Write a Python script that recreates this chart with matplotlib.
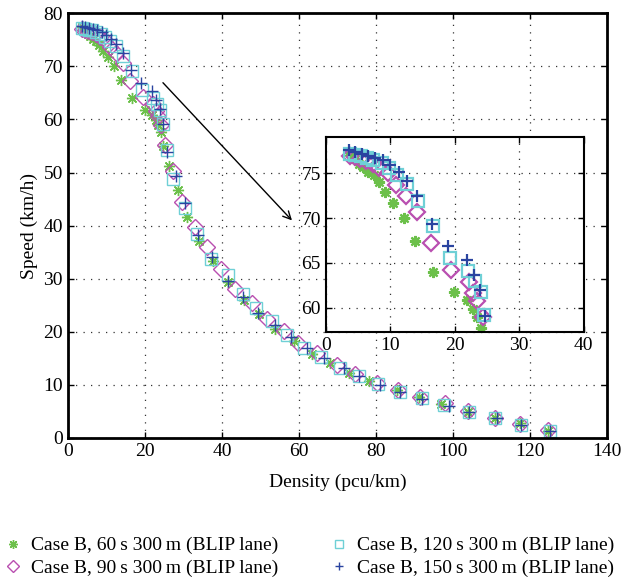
import matplotlib
matplotlib.use('Agg')
import matplotlib.pyplot as plt
import numpy as np

plt.rcParams['font.family'] = ['Liberation Serif', 'DejaVu Serif']

# density (pcu/km) and speed (km/h) for each case
dens_60 = [3.6, 4.0, 4.5, 5.1, 5.7, 6.5, 7.4, 8.2, 9.1, 10.4, 12.1, 13.9, 16.6, 19.9,
           21.9, 22.8, 23.4, 24.1, 24.7, 26.2, 28.5, 30.9, 34.0, 37.8, 41.5, 45.8, 49.7,
           53.8, 58.7, 63.5, 68.2, 73.0, 78.2, 85.5, 91.3, 96.8, 104.0, 110.9, 117.4, 124.7]
speed_60 = [77.4, 77.0, 76.6, 76.1, 75.7, 75.2, 74.8, 74.0, 72.9, 71.7, 70.0, 67.4, 64.0, 61.8,
            60.8, 59.9, 58.9, 57.7, 55.0, 51.2, 46.7, 41.6, 37.1, 33.4, 29.3, 26.0, 23.4,
            20.5, 18.3, 15.9, 14.1, 12.3, 10.7, 9.0, 7.7, 6.4, 4.9, 3.7, 2.8, 1.4]

dens_90 = [3.75, 4.5, 5.3, 6.25, 7.3, 8.3, 9.6, 10.9, 12.5, 14.2, 16.25, 19.4,
           22.2, 22.9, 23.5, 24.3, 25.1, 27.3, 29.7, 32.9, 36.1, 39.8, 43.5, 47.8, 51.8,
           56.2, 59.9, 64.8, 70.0, 74.7, 80.3, 85.7, 91.5, 98.0, 104.0, 110.9, 117.5, 124.8]
speed_90 = [77.0, 76.8, 76.6, 76.4, 76.1, 75.6, 75.0, 73.7, 72.5, 70.7, 67.2, 64.2,
            62.9, 61.6, 60.7, 58.9, 55.2, 50.2, 44.5, 39.7, 35.9, 31.8, 28.0, 25.5, 22.5,
            20.2, 17.8, 16.0, 13.8, 12.1, 10.3, 9.0, 7.8, 6.5, 5.0, 3.8, 2.6, 1.5]

dens_120 = [3.75, 4.53, 5.42, 6.36, 7.39, 8.7, 9.73, 11.05, 12.6, 14.27, 16.67, 19.2,
            22.1, 23.1, 24.0, 24.6, 25.7, 27.4, 30.5, 33.6, 37.2, 41.7, 45.4, 48.8, 53.0,
            57.0, 61.3, 65.7, 70.8, 75.7, 80.6, 86.4, 92.1, 97.8, 104.1, 110.9, 117.7, 125.2]
speed_120 = [77.2, 77.1, 76.94, 76.76, 76.53, 76.15, 75.6, 74.78, 73.77, 71.9, 69.1, 65.56,
             64.1, 63.0, 61.7, 59.2, 54.2, 48.7, 43.3, 38.5, 33.8, 30.7, 27.2, 24.4, 22.1,
             19.4, 17.0, 15.3, 13.1, 11.7, 10.2, 8.7, 7.5, 6.2, 4.8, 3.7, 2.5, 1.3]

dens_150 = [3.64, 4.53, 5.58, 6.61, 7.66, 8.86, 10.0, 11.3, 12.6, 14.2, 16.4, 19.0,
            21.9, 23.0, 23.9, 24.7, 25.7, 28.0, 30.5, 33.7, 37.5, 41.7, 45.5, 49.5, 53.8,
            57.9, 62.0, 66.5, 71.7, 75.7, 81.0, 86.4, 92.0, 98.9, 104.2, 111.4, 117.7, 125.2]
speed_150 = [77.58, 77.39, 77.2, 77.0, 76.76, 76.46, 75.97, 75.15, 74.2, 72.46, 69.37, 66.86,
             65.3, 63.7, 62.0, 59.1, 53.9, 49.3, 44.3, 38.2, 34.0, 29.6, 26.5, 23.6, 21.3,
             19.1, 16.9, 15.1, 13.1, 11.7, 10.0, 8.7, 7.3, 6.0, 4.8, 3.7, 2.5, 1.3]

labels = ['Case B, 60\u2009s 300\u2009m (BLIP lane)', 'Case B, 90\u2009s 300\u2009m (BLIP lane)',
          'Case B, 120\u2009s 300\u2009m (BLIP lane)', 'Case B, 150\u2009s 300\u2009m (BLIP lane)']

green = '#6cc04a'
magenta = '#b94fb0'
cyan = '#6fd0d6'
blue = '#2a44a0'

series = [
    (dens_60, speed_60, dict(marker=(8, 2, 0), color=green, mfc='none')),
    (dens_90, speed_90, dict(marker='D', color=magenta, mfc='none')),
    (dens_120, speed_120, dict(marker='s', color=cyan, mfc='none')),
    (dens_150, speed_150, dict(marker='+', color=blue, mfc='none')),
]


def style_axes(ax, lw):
    for s in ax.spines.values():
        s.set_linewidth(lw)
    ax.tick_params(direction='in', top=True, right=True, labelsize=14, length=4, width=1)
    ax.grid(True, linestyle=(0, (1, 5)), color='#333333', linewidth=0.9)
    ax.set_axisbelow(True)


fig = plt.figure(figsize=(6.23, 5.77), dpi=100)
ax = fig.add_axes([0.109, 0.241, 0.865, 0.736])

handles = []
for x, y, kw in series:
    h, = ax.plot(x, y, linestyle='none', markersize=8, markeredgewidth=1.0, **kw)
    handles.append(h)

ax.set_xlim(0, 140)
ax.set_ylim(0, 80)
ax.set_xticks(np.arange(0, 141, 20))
ax.set_yticks(np.arange(0, 81, 10))
style_axes(ax, 2)
ax.set_xlabel('Density (pcu/km)', fontsize=14, labelpad=10)
ax.set_ylabel('Speed (km/h)', fontsize=14, labelpad=4)

ax.annotate('', xy=(58.7, 40.6), xytext=(24.2, 67.3),
            arrowprops=dict(arrowstyle='->', color='black', lw=1.0, mutation_scale=14))

# zoomed inset
axin = fig.add_axes([0.523, 0.425, 0.414, 0.338])
for x, y, kw in series:
    axin.plot(x, y, linestyle='none', markersize=8, markeredgewidth=1.6, **kw)
axin.set_xlim(0, 40)
axin.set_ylim(57.3, 79.1)
axin.set_xticks([0, 10, 20, 30, 40])
axin.set_yticks([60, 65, 70, 75])
style_axes(axin, 1.5)

fig.legend(handles, labels, loc='upper left', bbox_to_anchor=(-0.023, 0.1), ncol=2,
           frameon=False, fontsize=14, handlelength=1.0, handletextpad=0.45,
           columnspacing=2.6, labelspacing=0.25, markerscale=0.8)

fig.savefig('out.png', dpi=100)
